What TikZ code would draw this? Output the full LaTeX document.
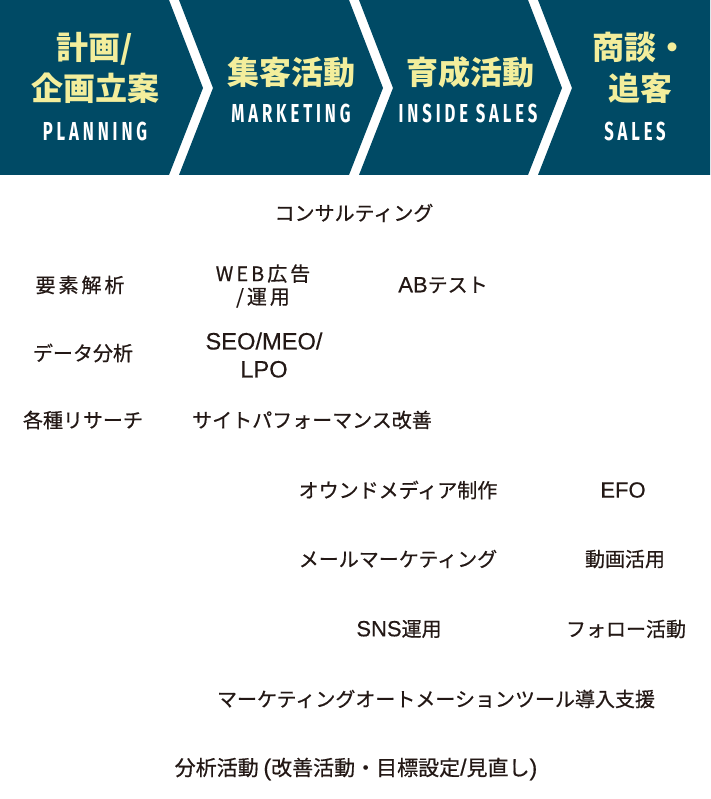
\documentclass[tikz,border=0pt]{standalone}
\usepackage{fontspec}
\setmainfont{Noto Sans CJK JP}
\newfontfamily\jpbody[FakeBold=0.6]{Noto Sans CJK JP}
\newfontfamily\jpspaced[LetterSpace=15,FakeBold=0.6]{Noto Sans CJK JP}
\newfontfamily\engcond[FakeStretch=0.64,LetterSpace=15]{Fira Sans}
\newfontfamily\latinfont[Scale=1.1,FakeBold=0.4]{Liberation Sans}
\newcommand\latin[1]{{\latinfont #1}}
\usepackage{tikz}

\definecolor{bannerteal}{RGB}{0,74,101}
\definecolor{stepyellow}{RGB}{243,238,156}
\definecolor{inkblack}{RGB}{35,24,21}

\begin{document}
\begin{tikzpicture}[x=1pt,y=-1pt,
 steptitle/.style={text=stepyellow,font=\fontsize{32}{41}\bfseries\selectfont,align=center,inner sep=0pt},
 stepsub/.style={text=white,font=\engcond\fontsize{26}{28}\bfseries\selectfont,inner sep=0pt},
 task/.style={text=inkblack,font=\jpbody\fontsize{20}{24}\selectfont,align=center,inner sep=0pt}]
 \useasboundingbox (0,0) rectangle (710,799);
 \fill[bannerteal] (0,0) -- (169,0) -- (203,88) -- (169,175) -- (0,175) -- cycle;
 \fill[bannerteal] (179,0) -- (349,0) -- (383,88) -- (349,175) -- (179,175) -- (213,88) -- cycle;
 \fill[bannerteal] (359,0) -- (528,0) -- (562,88) -- (528,175) -- (359,175) -- (393,88) -- cycle;
 \fill[bannerteal] (538,0) -- (710,0) -- (710,175) -- (538,175) -- (572,88) -- cycle;
 \node[steptitle] (plan) at (95,68) {計画/\\企画立案};
 \node[stepsub] (plansub) at (95,131.5) {PLANNING};
 \node[steptitle] (mkt) at (291,72.5) {集客活動};
 \node[stepsub] (mktsub) at (291,113) {MARKETING};
 \node[steptitle] (inside) at (470,72.5) {育成活動};
 \node[stepsub] (insidesub) at (468,113) {INSIDE SALES};
 \node[steptitle] (sales) at (640,68) {商談・\\追客};
 \node[stepsub] (salessub) at (635,131.5) {SALES};
 \node[task] (consult) at (354,213) {コンサルティング};
 \node[task,font=\jpspaced\fontsize{20}{23}\selectfont] (elem) at (80,285) {要素解析};
 \node[task,font=\jpspaced\fontsize{20}{23}\selectfont] (webad) at (263,286) {WEB広告\\/運用};
 \node[task] (abtest) at (443,285) {\latin{AB}テスト};
 \node[task] (data) at (83,353) {データ分析};
 \node[task,font=\jpbody\fontsize{21.5}{28}\selectfont] (seo) at (264,355) {\latin{SEO/MEO/}\\\latin{LPO}};
 \node[task] (research) at (83,420) {各種リサーチ};
 \node[task] (siteperf) at (312,420) {サイトパフォーマンス改善};
 \node[task] (owned) at (398,490) {オウンドメディア制作};
 \node[task] (efo) at (623,490) {\latin{EFO}};
 \node[task] (mail) at (398,559) {メールマーケティング};
 \node[task] (video) at (625,559) {動画活用};
 \node[task] (sns) at (399,629) {\latin{SNS}運用};
 \node[task] (follow) at (626,629) {フォロー活動};
 \node[task] (ma) at (436,699) {マーケティングオートメーションツール導入支援};
 \node[task,font=\jpbody\fontsize{21}{24}\selectfont] (analysis) at (356,769) {分析活動 \latin{(}改善活動・目標設定\latin{/}見直し\latin{)}};
\end{tikzpicture}
\end{document}
